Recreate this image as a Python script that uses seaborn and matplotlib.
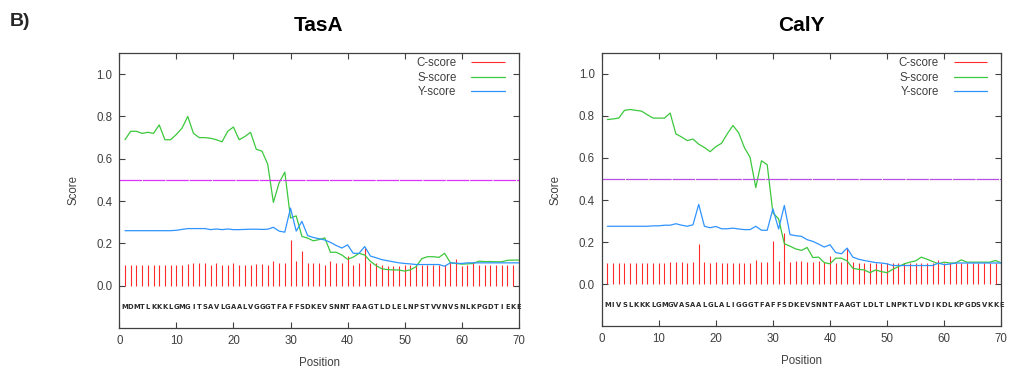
import numpy as np
import pandas as pd
import matplotlib
matplotlib.use("Agg")
import matplotlib.pyplot as plt
import seaborn as sns

# ---------------- data ----------------
positions = list(range(1, 71))

tasa_seq = "MDMTLKKKLGMGITSAVLGAALVGGGTFAFFSDKEVSNNTFAAGTLDLELNPSTVVNVSNLKPGDTIEKE"
caly_seq = "MIVSLKKKLGMGVASAALGLALIGGGTFAFFSDKEVSNNTFAAGTLDLTLNPKTLVDIKDLKPGDSVKKE"

tasa_c = [0.10, 0.10, 0.10, 0.10, 0.10, 0.10, 0.10, 0.10, 0.10, 0.096,
          0.10, 0.104, 0.105, 0.105, 0.105, 0.10, 0.105, 0.10, 0.10, 0.105,
          0.096, 0.10, 0.10, 0.104, 0.104, 0.10, 0.115, 0.105, 0.105, 0.215,
          0.115, 0.166, 0.108, 0.108, 0.108, 0.10, 0.115, 0.105, 0.105, 0.14,
          0.097, 0.105, 0.177, 0.105, 0.105, 0.098, 0.095, 0.095, 0.095, 0.10,
          0.10, 0.10, 0.10, 0.10, 0.10, 0.10, 0.10, 0.11, 0.128, 0.095,
          0.10, 0.113, 0.10, 0.10, 0.10, 0.10, 0.10, 0.10, 0.10, 0.10]
tasa_s = [0.69, 0.73, 0.73, 0.72, 0.725, 0.72, 0.76, 0.69, 0.69, 0.715,
          0.745, 0.80, 0.72, 0.70, 0.70, 0.697, 0.69, 0.68, 0.73, 0.75,
          0.69, 0.705, 0.725, 0.645, 0.636, 0.575, 0.394, 0.486, 0.537, 0.32,
          0.33, 0.233, 0.225, 0.212, 0.218, 0.226, 0.158, 0.158, 0.145, 0.125,
          0.135, 0.153, 0.145, 0.115, 0.095, 0.08, 0.076, 0.075, 0.074, 0.069,
          0.075, 0.09, 0.128, 0.137, 0.137, 0.134, 0.153, 0.109, 0.105, 0.102,
          0.103, 0.105, 0.116, 0.114, 0.114, 0.113, 0.113, 0.12, 0.121, 0.121]
tasa_y = [0.26, 0.26, 0.26, 0.26, 0.26, 0.26, 0.26, 0.26, 0.26, 0.262,
          0.266, 0.27, 0.27, 0.27, 0.27, 0.265, 0.268, 0.265, 0.268, 0.265,
          0.265, 0.266, 0.267, 0.267, 0.266, 0.267, 0.276, 0.258, 0.253, 0.367,
          0.258, 0.304, 0.237, 0.228, 0.222, 0.216, 0.205, 0.19, 0.178, 0.193,
          0.153, 0.153, 0.185, 0.14, 0.132, 0.123, 0.118, 0.113, 0.108, 0.105,
          0.103, 0.10, 0.10, 0.10, 0.10, 0.10, 0.092, 0.108, 0.106, 0.105,
          0.108, 0.108, 0.108, 0.108, 0.108, 0.108, 0.108, 0.108, 0.108, 0.108]

caly_c = [0.10, 0.10, 0.10, 0.10, 0.10, 0.10, 0.10, 0.10, 0.10, 0.10,
          0.102, 0.104, 0.104, 0.104, 0.10, 0.104, 0.19, 0.103, 0.098, 0.103,
          0.098, 0.10, 0.10, 0.10, 0.10, 0.10, 0.115, 0.103, 0.103, 0.204,
          0.11, 0.243, 0.103, 0.108, 0.11, 0.103, 0.105, 0.108, 0.105, 0.135,
          0.098, 0.105, 0.17, 0.105, 0.10, 0.10, 0.10, 0.10, 0.10, 0.10,
          0.10, 0.10, 0.10, 0.10, 0.10, 0.10, 0.10, 0.10, 0.115, 0.10,
          0.10, 0.10, 0.10, 0.10, 0.10, 0.10, 0.10, 0.10, 0.10, 0.10]
caly_s = [0.783, 0.786, 0.79, 0.827, 0.831, 0.827, 0.823, 0.806, 0.79, 0.79,
          0.79, 0.814, 0.715, 0.70, 0.683, 0.69, 0.666, 0.65, 0.63, 0.654,
          0.67, 0.715, 0.755, 0.72, 0.65, 0.603, 0.459, 0.587, 0.568, 0.339,
          0.31, 0.192, 0.18, 0.167, 0.16, 0.174, 0.126, 0.128, 0.102, 0.096,
          0.123, 0.123, 0.11, 0.075, 0.07, 0.067, 0.054, 0.067, 0.059, 0.054,
          0.07, 0.083, 0.096, 0.104, 0.11, 0.128, 0.118, 0.107, 0.096, 0.104,
          0.10, 0.10, 0.115, 0.104, 0.104, 0.104, 0.104, 0.104, 0.112, 0.10]
caly_y = [0.275, 0.275, 0.275, 0.275, 0.275, 0.275, 0.275, 0.275, 0.277, 0.277,
          0.28, 0.28, 0.287, 0.28, 0.275, 0.282, 0.379, 0.275, 0.268, 0.274,
          0.263, 0.263, 0.266, 0.262, 0.259, 0.259, 0.275, 0.256, 0.256, 0.358,
          0.262, 0.374, 0.235, 0.23, 0.227, 0.211, 0.203, 0.19, 0.176, 0.187,
          0.15, 0.144, 0.171, 0.128, 0.118, 0.112, 0.107, 0.102, 0.10, 0.096,
          0.088, 0.088, 0.088, 0.088, 0.088, 0.088, 0.088, 0.088, 0.10, 0.092,
          0.095, 0.10, 0.10, 0.10, 0.10, 0.10, 0.10, 0.10, 0.10, 0.10]

threshold = 0.5
titles = ["TasA", "CalY"]
series_names = ["C-score", "S-score", "Y-score"]
x_ticks = [0, 10, 20, 30, 40, 50, 60, 70]
y_ticks = [0.0, 0.2, 0.4, 0.6, 0.8, 1.0]
y_tick_labels = ["0.0", "0.2", "0.4", "0.6", "0.8", "1.0"]

# ---------------- style ----------------
sns.set_theme(style="white")
plt.rcParams["font.family"] = ["Liberation Sans", "DejaVu Sans"]

C_COLOR = "#ff2a2a"
S_COLOR = "#3cc83c"
Y_COLOR = "#2f94ff"
TH_COLORS = ["#dd33ff", "#bb4ee0"]
GRAY = "#404040"

fig = plt.figure(figsize=(10.09, 3.68), dpi=100)
ax_rects = [[0.1182, 0.1087, 0.396, 0.7473],
            [0.5963, 0.1141, 0.396, 0.7419]]

panels = [(tasa_c, tasa_s, tasa_y, tasa_seq), (caly_c, caly_s, caly_y, caly_seq)]

for i, (cvals, svals, yvals, seq) in enumerate(panels):
    ax = fig.add_axes(ax_rects[i])
    df = pd.DataFrame({"Position": positions, "C": cvals, "S": svals, "Y": yvals})

    ax.vlines(df["Position"], 0, df["C"], color=C_COLOR, lw=0.8, label=series_names[0])
    sns.lineplot(data=df, x="Position", y="S", ax=ax, color=S_COLOR, lw=0.9,
                 label=series_names[1])
    sns.lineplot(data=df, x="Position", y="Y", ax=ax, color=Y_COLOR, lw=0.9,
                 label=series_names[2])
    ax.axhline(threshold, color=TH_COLORS[i], lw=0.9, ls=(0, (18, 0.7)))

    for p, aa in zip(positions, seq):
        ax.text(p, -0.1, aa, ha="center", va="center", fontsize=5.4,
                fontweight="bold", color="#2a2a2a", family="DejaVu Sans",
                fontstretch="condensed")

    ax.set_xlim(0, 70)
    ax.set_ylim(-0.2, 1.1)
    ax.set_xticks(x_ticks)
    ax.set_xticklabels([str(t) for t in x_ticks])
    ax.set_yticks(y_ticks)
    ax.set_yticklabels(y_tick_labels)
    ax.tick_params(direction="in", top=True, right=True, length=4, width=0.8,
                   color=GRAY, labelcolor=GRAY, labelsize=8.3, pad=5,
                   left=True, bottom=True)
    for sp in ax.spines.values():
        sp.set_color(GRAY)
        sp.set_linewidth(0.9)
    ax.set_xlabel("Position", fontsize=8.3, color=GRAY, labelpad=7)
    ax.set_ylabel("Score", fontsize=8.3, color=GRAY, labelpad=12)
    ax.set_title(titles[i], fontsize=15, fontweight="bold", pad=16, color="black")

    leg = ax.legend(loc="upper right", bbox_to_anchor=(0.965, 0.985),
                    frameon=False, markerfirst=False,
                    fontsize=8.3, handlelength=2.9, handletextpad=1.3,
                    labelspacing=0.22, borderaxespad=0.0, borderpad=0.0)
    for t in leg.get_texts():
        t.set_color(GRAY)
    ax.grid(False)

fig.text(0.01, 0.942, "B)", fontsize=14, fontweight="bold", ha="left", va="center")

fig.savefig("out.png", dpi=100)
